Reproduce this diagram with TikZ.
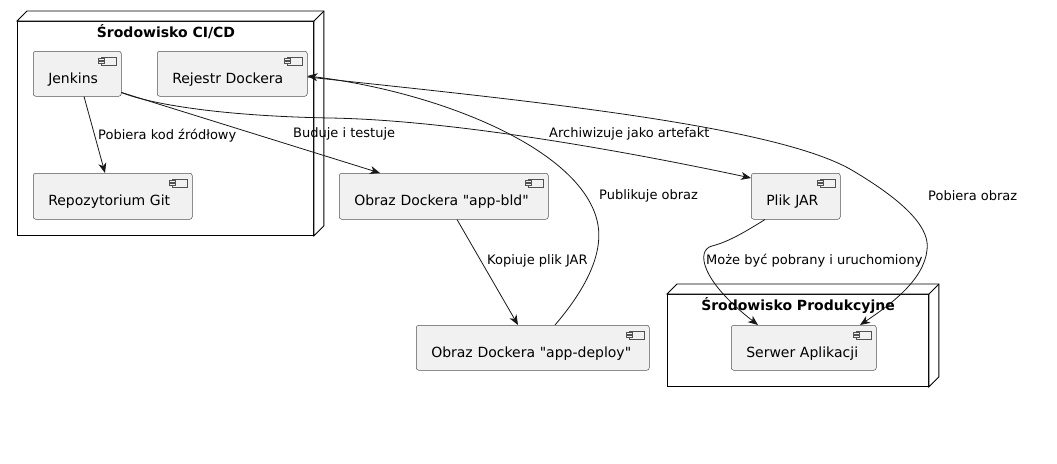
\documentclass[tikz,border=0pt]{standalone}
\usepackage{fontspec}
\setmainfont{DejaVu Sans}[Ligatures=TeXOff]
\usetikzlibrary{arrows.meta,calc}
\definecolor{compfill}{HTML}{F1F1F1}
\definecolor{ink}{HTML}{181818}
\tikzset{
  comp/.style={draw=ink!75, line width=0.5pt, fill=compfill, rounded corners=2.5pt,
    anchor=north west, inner xsep=15pt, inner ysep=0pt, text height=32pt, text depth=13pt,
    font=\fontsize{14}{16}\selectfont, align=left},
  envbox/.style={draw=black, line width=0.9pt, fill=white, anchor=north west, inner sep=0pt},
  envline/.style={draw=black, line width=0.9pt},
  envtitle/.style={font=\fontsize{14}{16}\selectfont\bfseries, inner sep=0pt},
  elabel/.style={font=\fontsize{13}{15}\selectfont, anchor=west, inner sep=0pt},
  edge/.style={draw=ink, line width=0.8pt, -{Stealth[length=10pt,width=8pt,inset=3pt]}},
  icon/.style={draw=ink!75, line width=0.5pt, fill=compfill}
}
\begin{document}
\begin{tikzpicture}[x=1pt,y=-1pt]
\useasboundingbox (0,0) rectangle (1057,463);
\fill[white] (0,0) rectangle (1057,463);

% environments
\node[envbox, minimum width=296pt, minimum height=214pt] (ci) at (17,21) {};
\draw[envline, fill=white] (ci.north west) -- ++(10pt,10pt) -- ([shift={(10pt,10pt)}]ci.north east)
  -- ([shift={(10pt,10pt)}]ci.south east) -- (ci.south east) -- (ci.north east) -- cycle;
\draw[envline] (ci.north east) -- ++(10pt,10pt);
\node[envtitle] (cititle) at (166,32) {Środowisko CI/CD};

\node[envbox, minimum width=261pt, minimum height=92pt] (prod) at (667,294) {};
\draw[envline, fill=white] (prod.north west) -- ++(10pt,10pt) -- ([shift={(10pt,10pt)}]prod.north east)
  -- ([shift={(10pt,10pt)}]prod.south east) -- (prod.south east) -- (prod.north east) -- cycle;
\draw[envline] (prod.north east) -- ++(10pt,10pt);
\node[envtitle] (prodtitle) at (798,306) {Środowisko Produkcyjne};

% components
\node[comp, text width=58pt] (jenkins) at (33,51) {Jenkins};
\node[comp, text width=120pt] (reg) at (157,51) {Rejestr Dockera};
\node[comp, text width=129pt, text depth=14pt] (repo) at (33,173) {Repozytorium Git};
\node[comp, text width=179pt, text depth=14pt] (bld) at (339,173) {Obraz Dockera "app-bld"};
\node[comp, text width=59pt, text depth=14pt] (jar) at (751,173) {Plik JAR};
\node[comp, text width=203pt] (deploy) at (416,325) {Obraz Dockera "app-deploy"};
\node[comp, text width=115pt] (srv) at (731,325) {Serwer Aplikacji};

\foreach \n in {jenkins,reg,repo,bld,jar,deploy,srv}{
  \draw[icon] ([xshift=-20pt,yshift=-6pt]\n.north east) rectangle ([xshift=-5pt,yshift=-14pt]\n.north east);
  \draw[icon] ([xshift=-23pt,yshift=-7.5pt]\n.north east) rectangle ([xshift=-17pt,yshift=-9.5pt]\n.north east);
  \draw[icon] ([xshift=-23pt,yshift=-10.5pt]\n.north east) rectangle ([xshift=-17pt,yshift=-12.5pt]\n.north east);
}

% connectors
\draw[edge] ([xshift=51pt]jenkins.south west) -- ([xshift=72pt]repo.north west);
\draw[edge] ([yshift=4pt]jenkins.south east) -- ([xshift=41pt]bld.north west);
\draw[edge] ([yshift=4pt]jenkins.south east) .. controls (150,104) and (220,116) .. (330,118)
  .. controls (450,120) and (620,150) .. ([yshift=-5pt]jar.north west);
\draw[edge] ([xshift=118pt]bld.south west) -- ([xshift=102pt]deploy.north west);
\draw[edge] ([xshift=139pt]deploy.north west) .. controls (585,290) and (603,255) .. (598,225)
  .. controls (585,150) and (440,92) .. ([yshift=-25pt]reg.north east);
\draw[edge] ([yshift=-26pt]reg.north east) .. controls (520,100) and (780,125) .. (855,172)
  .. controls (910,205) and (930,230) .. (927,250)
  .. controls (924,280) and (890,305) .. ([xshift=129pt]srv.north west);
\draw[edge] ([xshift=14pt]jar.south west) .. controls (745,232) and (728,242) .. (712,246)
  .. controls (696,250) and (700,280) .. ([xshift=27pt]srv.north west);

% labels
\node[elabel] (l1) at (98,136) {Pobiera kod źródłowy};
\node[elabel] (l2) at (293,134) {Buduje i testuje};
\node[elabel] (l3) at (549,134) {Archiwizuje jako artefakt};
\node[elabel] (l4) at (487,261) {Kopiuje plik JAR};
\node[elabel] (l5) at (599,196) {Publikuje obraz};
\node[elabel] (l6) at (928,196) {Pobiera obraz};
\node[elabel] (l7) at (706,261) {Może być pobrany i uruchomiony};
\end{tikzpicture}
\end{document}
